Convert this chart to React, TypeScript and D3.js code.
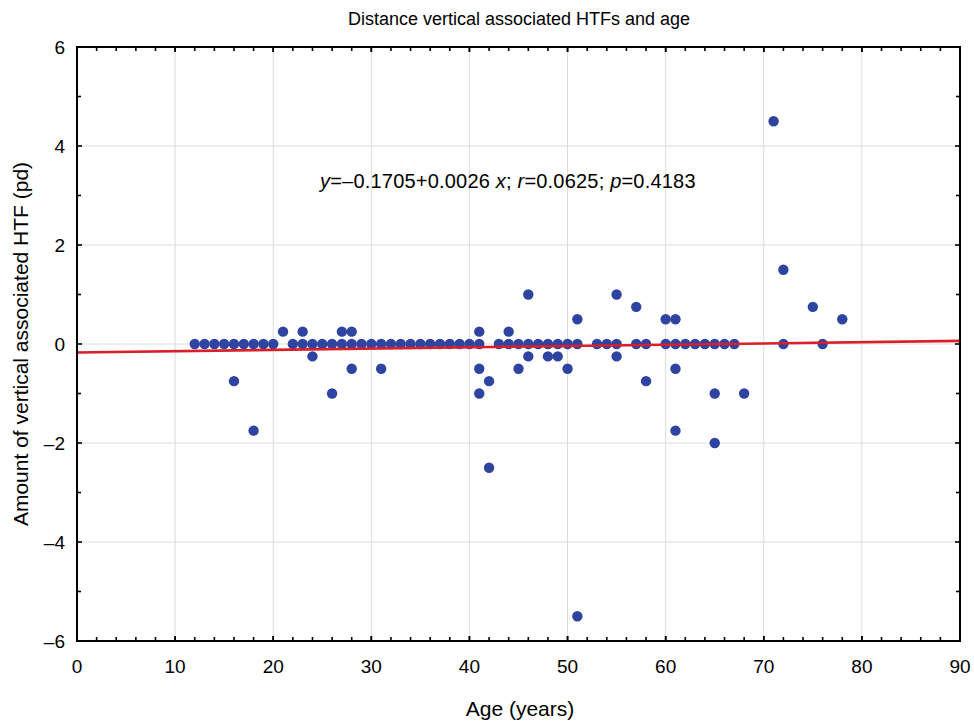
import { useEffect, useRef } from "react";
import * as d3 from "d3";

// Scatter points (age in years, amount in pd)
const ages = [
  12, 13, 14, 15, 16, 16, 17, 18, 18, 19, 20, 21, 22, 23, 23, 24, 24, 25, 26, 26,
  27, 27, 28, 28, 28, 29, 30, 31, 31, 32, 33, 34, 35, 36, 37, 38, 39, 40,
  41, 41, 41, 41, 42, 42, 43, 44, 44, 45, 45, 46, 46, 46, 47, 48, 48, 49, 49,
  50, 50, 51, 51, 51, 53, 54, 55, 55, 55, 57, 57, 58, 58, 60, 60,
  61, 61, 61, 61, 62, 63, 64, 65, 65, 65, 66, 67, 68, 71, 72, 72, 75, 76, 78,
];
const amounts = [
  0, 0, 0, 0, 0, -0.75, 0, 0, -1.75, 0, 0, 0.25, 0, 0, 0.25, 0, -0.25, 0, 0, -1,
  0, 0.25, 0, 0.25, -0.5, 0, 0, 0, -0.5, 0, 0, 0, 0, 0, 0, 0, 0, 0,
  0, 0.25, -0.5, -1, -0.75, -2.5, 0, 0, 0.25, 0, -0.5, 0, 1, -0.25, 0, 0, -0.25, 0, -0.25,
  0, -0.5, 0, 0.5, -5.5, 0, 0, 0, 1, -0.25, 0, 0.75, 0, -0.75, 0, 0.5,
  0, 0.5, -0.5, -1.75, 0, 0, 0, 0, -1, -2, 0, 0, -1, 4.5, 0, 1.5, 0.75, 0, 0.5,
];

const xTicks = [0, 10, 20, 30, 40, 50, 60, 70, 80, 90];
const yTicks = [-6, -4, -2, 0, 2, 4, 6];
const fit = { intercept: -0.1705, slope: 0.0026 };

const W = 974;
const H = 721;
const MARGIN = { top: 47, right: 14, bottom: 80, left: 77 };
const FONT = "'Liberation Sans', Arial, sans-serif";

export default function App() {
  const svgRef = useRef<SVGSVGElement>(null);

  useEffect(() => {
    if (!svgRef.current) return;
    const svg = d3.select(svgRef.current);
    svg.selectAll("*").remove();

    const x = d3.scaleLinear().domain([0, 90]).range([MARGIN.left, W - MARGIN.right]);
    const y = d3.scaleLinear().domain([-6, 6]).range([H - MARGIN.bottom, MARGIN.top]);
    const [x0, x1] = x.range();
    const [y0, y1] = y.range();

    svg.append("rect").attr("width", W).attr("height", H).attr("fill", "#fff");

    // grid
    svg.append("g")
      .selectAll("line")
      .data(xTicks.slice(1, -1))
      .join("line")
      .attr("x1", (d) => x(d)).attr("x2", (d) => x(d))
      .attr("y1", y1).attr("y2", y0)
      .attr("stroke", "#dcdcdc").attr("stroke-width", 1);
    svg.append("g")
      .selectAll("line")
      .data(yTicks.slice(1, -1))
      .join("line")
      .attr("x1", x0).attr("x2", x1)
      .attr("y1", (d) => y(d)).attr("y2", (d) => y(d))
      .attr("stroke", "#dcdcdc").attr("stroke-width", 1);

    // ticks pointing inward on all four sides (minor every 2 on x, every 1 on y)
    const xMinor = d3.range(0, 91, 2).concat(xTicks);
    const yMinor = d3.range(-6, 7, 1);
    const ticks = svg.append("g").attr("stroke", "#000").attr("stroke-width", 1.6);
    xMinor.forEach((v) => {
      const len = xTicks.includes(v) ? 5 : 4;
      ticks.append("line").attr("x1", x(v)).attr("x2", x(v)).attr("y1", y0).attr("y2", y0 - len);
      ticks.append("line").attr("x1", x(v)).attr("x2", x(v)).attr("y1", y1).attr("y2", y1 + len);
    });
    yMinor.forEach((v) => {
      const len = yTicks.includes(v) ? 5 : 4;
      ticks.append("line").attr("x1", x0).attr("x2", x0 + len).attr("y1", y(v)).attr("y2", y(v));
      ticks.append("line").attr("x1", x1).attr("x2", x1 - len).attr("y1", y(v)).attr("y2", y(v));
    });

    // points
    svg.append("g")
      .selectAll("circle")
      .data(ages.map((a, i) => [a, amounts[i]]))
      .join("circle")
      .attr("cx", (d) => x(d[0]))
      .attr("cy", (d) => y(d[1]))
      .attr("r", 5.2)
      .attr("fill", "#2f44a0");

    // regression line
    const line = d3.line<number>().x((d) => x(d)).y((d) => y(fit.intercept + fit.slope * d));
    svg.append("path")
      .attr("d", line([0, 90]))
      .attr("fill", "none")
      .attr("stroke", "#d81f2a")
      .attr("stroke-width", 2.6);

    // frame
    svg.append("rect")
      .attr("x", x0).attr("y", y1)
      .attr("width", x1 - x0).attr("height", y0 - y1)
      .attr("fill", "none").attr("stroke", "#000").attr("stroke-width", 2);

    // tick labels
    svg.append("g")
      .selectAll("text")
      .data(xTicks)
      .join("text")
      .attr("x", (d) => x(d))
      .attr("y", y0 + 32)
      .attr("text-anchor", "middle")
      .attr("font-family", FONT).attr("font-size", 19)
      .text((d) => String(d));
    svg.append("g")
      .selectAll("text")
      .data(yTicks)
      .join("text")
      .attr("x", x0 - 12)
      .attr("y", (d) => y(d) + 7)
      .attr("text-anchor", "end")
      .attr("font-family", FONT).attr("font-size", 19)
      .text((d) => (d < 0 ? "\u2013" + Math.abs(d) : String(d)));

    // titles
    svg.append("text")
      .attr("x", 519).attr("y", 25)
      .attr("text-anchor", "middle")
      .attr("font-family", FONT).attr("font-size", 18)
      .text("Distance vertical associated HTFs and age");
    svg.append("text")
      .attr("x", 520).attr("y", 716)
      .attr("text-anchor", "middle")
      .attr("font-family", FONT).attr("font-size", 21)
      .text("Age (years)");
    svg.append("text")
      .attr("transform", `translate(28,${(y0 + y1) / 2}) rotate(-90)`)
      .attr("text-anchor", "middle")
      .attr("font-family", FONT).attr("font-size", 21)
      .text("Amount of vertical associated HTF (pd)");

    // fit annotation
    const ann = svg.append("text")
      .attr("x", 320).attr("y", 188)
      .attr("font-family", FONT).attr("font-size", 20)
      .attr("letter-spacing", 0.2);
    const parts: [string, boolean][] = [
      ["y", true], ["=\u20130.1705+0.0026 ", false], ["x", true], ["; ", false],
      ["r", true], ["=0.0625; ", false], ["p", true], ["=0.4183", false],
    ];
    parts.forEach(([t, it]) => {
      ann.append("tspan").attr("font-style", it ? "italic" : "normal").text(t);
    });
  }, []);

  return (
    <div style={{ position: "absolute", left: 0, top: 0 }}>
      <svg ref={svgRef} width={W} height={H} style={{ display: "block" }} />
    </div>
  );
}
